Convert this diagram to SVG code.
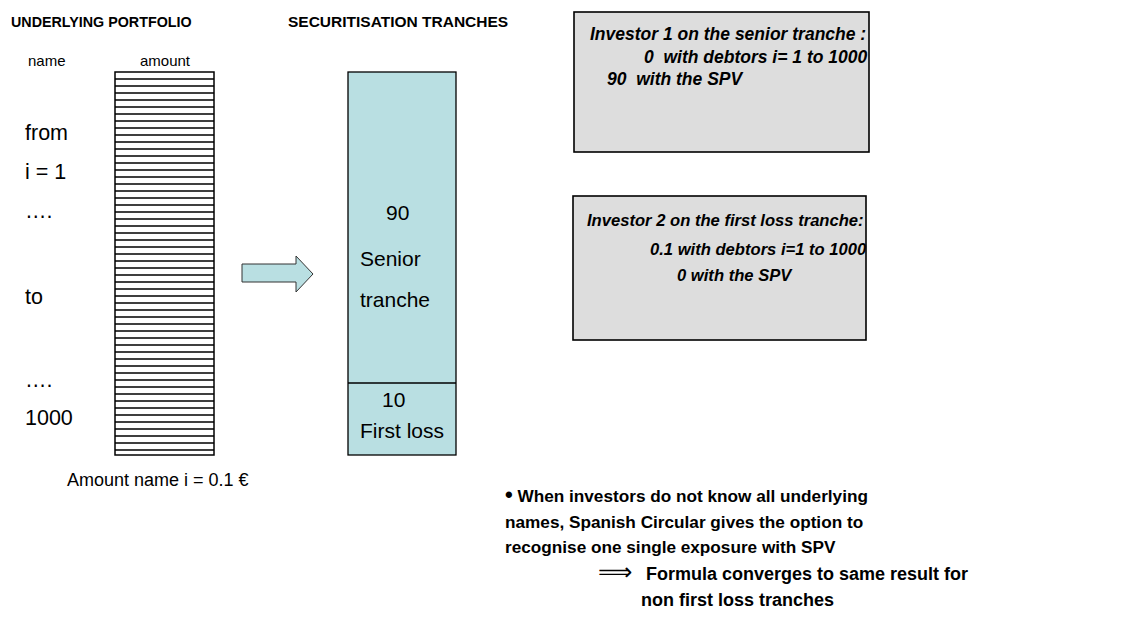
<svg xmlns="http://www.w3.org/2000/svg" width="1134" height="622" viewBox="0 0 1134 622">
<style>
text{font-family:"Liberation Sans",Arial,sans-serif;fill:#000;white-space:pre}
.title{font-weight:bold}
.hdr{font-size:15px}
.lbl{font-size:21.5px}
.tl{font-size:21px}
.inv{font-size:17.5px;font-weight:bold;font-style:italic}
.inv2{font-size:16.6px;font-weight:bold;font-style:italic}
.note{font-size:17.2px;font-weight:bold}
.note2{font-size:18px;font-weight:bold}
.tr{fill:#B9DFE2;stroke:#000;stroke-width:1.3}
.gray{fill:#DDDDDD;stroke:#000;stroke-width:1.6}
.stripe{stroke:#000;stroke-width:1.3}
</style>
<rect width="1134" height="622" fill="#fff"/>
<g id="titles">
<text class="title" x="11" y="27" font-size="14.3">UNDERLYING PORTFOLIO</text>
<text class="title" x="288" y="27" font-size="15.5">SECURITISATION TRANCHES</text>
<text class="hdr" x="28" y="66">name</text>
<text class="hdr" x="140" y="66">amount</text>
</g>
<g id="names">
<text class="lbl" x="25" y="140">from</text>
<text class="lbl" x="25" y="179">i = 1</text>
<text class="lbl" x="25" y="218">….</text>
<text class="lbl" x="25" y="304">to</text>
<text class="lbl" x="25" y="387">….</text>
<text class="lbl" x="25" y="425">1000</text>
</g>
<g id="portfolio">
<rect x="115" y="72" width="99" height="383" fill="#fff" stroke="#000" stroke-width="1.5"/>
<path class="stripe" d="M115 79H214M115 86H214M115 93H214M115 100H214M115 107H214M115 114H214M115 121H214M115 128H214M115 135H214M115 142H214M115 149H214M115 156H214M115 163H214M115 170H214M115 177H214M115 184H214M115 191H214M115 198H214M115 205H214M115 212H214M115 219H214M115 226H214M115 233H214M115 240H214M115 247H214M115 254H214M115 261H214M115 268H214M115 275H214M115 282H214M115 289H214M115 296H214M115 303H214M115 310H214M115 317H214M115 324H214M115 331H214M115 338H214M115 345H214M115 352H214M115 359H214M115 366H214M115 373H214M115 380H214M115 387H214M115 394H214M115 401H214M115 408H214M115 415H214M115 422H214M115 429H214M115 436H214M115 443H214M115 450H214"/>
<text x="67" y="486" font-size="18">Amount name i = 0.1 €</text>
</g>
<g id="connectors">
<polygon class="tr" points="242,264 296,264 296,256 313,274 296,292 296,282 242,282" style="stroke:#333;stroke-width:1"/>
</g>
<g id="tranches">
<rect class="tr" x="348" y="72" width="108" height="383"/>
<line x1="348" y1="383" x2="456" y2="383" stroke="#000" stroke-width="1.3"/>
<text class="tl" x="386" y="220">90</text>
<text class="tl" x="360" y="266">Senior</text>
<text class="tl" x="360" y="307">tranche</text>
<text class="tl" x="382" y="407">10</text>
<text class="tl" x="360" y="438">First loss</text>
</g>
<g id="investor1">
<rect class="gray" x="574" y="12" width="295" height="140"/>
<text class="inv" x="590" y="40">Investor 1 on the senior tranche :</text>
<text class="inv" x="644" y="63">0  with debtors i= 1 to 1000</text>
<text class="inv" x="607" y="85">90  with the SPV</text>
</g>
<g id="investor2">
<rect class="gray" x="573" y="196" width="293" height="144"/>
<text class="inv2" x="587" y="226">Investor 2 on the first loss tranche:</text>
<text class="inv2" x="650" y="255">0.1 with debtors i=1 to 1000</text>
<text class="inv2" x="677" y="281">0 with the SPV</text>
</g>
<g id="note">
<text class="note" x="505" y="502"><tspan font-size="22">•</tspan> When investors do not know all underlying</text>
<text class="note" x="505" y="528">names, Spanish Circular gives the option to</text>
<text class="note" x="505" y="553">recognise one single exposure with SPV</text>
<text x="598" y="580" style="font-family:'DejaVu Sans',sans-serif;font-size:24px">⟹</text>
<text class="note2" x="646" y="580">Formula converges to same result for</text>
<text class="note2" x="641" y="606">non first loss tranches</text>
</g>
</svg>
